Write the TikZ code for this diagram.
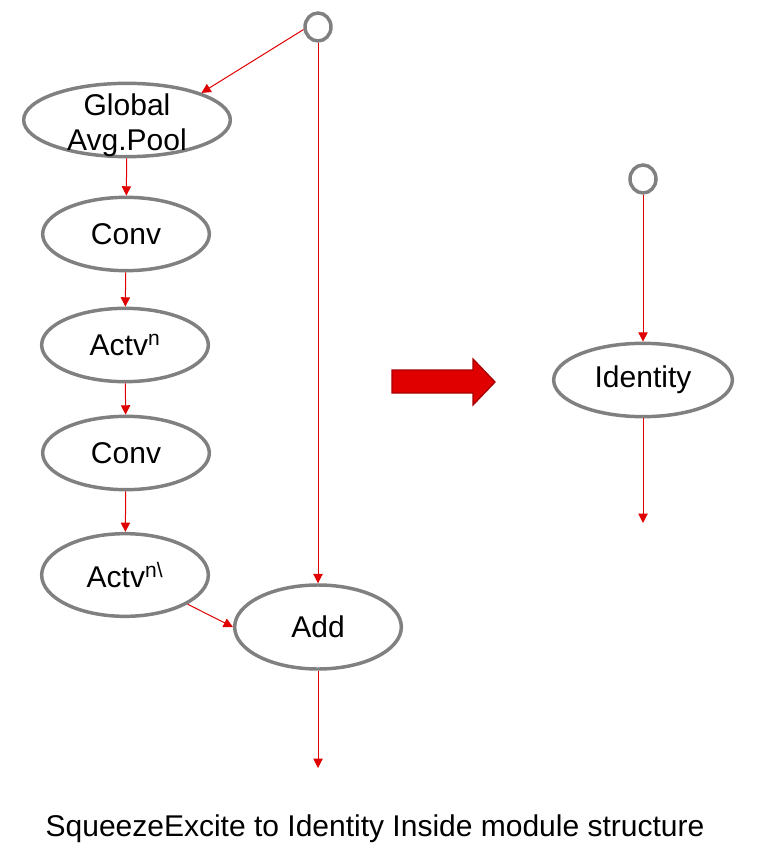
\documentclass[tikz,border=0pt]{standalone}
\usepackage{fontspec}
\setmainfont{Liberation Sans}
\usetikzlibrary{shapes.geometric,arrows.meta}
\definecolor{seGray}{HTML}{808080}
\definecolor{seRed}{HTML}{E00000}
\definecolor{seDark}{HTML}{A80000}

\begin{document}
\begin{tikzpicture}[x=0.75pt,y=-0.75pt,
		blk/.style={ellipse,draw=seGray,line width=2.6pt,fill=white,inner sep=0pt,
			align=center,font=\fontsize{22.5}{26}\selectfont,minimum width=125pt,minimum height=55pt},
		port/.style={ellipse,draw=seGray,line width=2.6pt,inner sep=0pt,
			minimum width=19.5pt,minimum height=21pt},
		flow/.style={seRed,line width=0.75pt,-{Triangle[length=7pt,width=7pt]}}]
	\useasboundingbox (0,0) rectangle (759,862);
	% squeeze-excite branch
	\node[port] (in) at (318,27) {};
	\node[blk,minimum width=155pt,inner ysep=-12pt] (gap) at (127,120) {\rule{0pt}{24pt}Global\\Avg.Pool};
	\node[blk] (conv1) at (126,234) {Conv};
	\node[blk] (act1) at (125,345) {Actv\textsuperscript{n}};
	\node[blk] (conv2) at (126,453) {Conv};
	\node[blk,minimum height=62pt] (act2) at (125,575) {Actv\textsuperscript{n\textbackslash}};
	\node[blk,minimum height=63pt] (add) at (318,627) {Add};
	\coordinate (out) at (318,768);
	\draw[flow] (in.190) -- (gap.20);
	\draw[flow] (gap) -- (conv1);
	\draw[flow] (conv1) -- (act1);
	\draw[flow] (act1) -- (conv2);
	\draw[flow] (conv2) -- (act2);
	\draw[flow] (act2.-25) -- (add.west);
	\draw[flow] (in.south) -- (add.north);
	\draw[flow] (add.south) -- (out);
	% replacement
	\fill[seRed,draw=seDark,line width=1pt] (392,370) -- (473,370) -- (473,359) -- (495,382)
		-- (473,405) -- (473,393) -- (392,393) -- cycle;
	\node[port] (in2) at (643,179) {};
	\node[blk,minimum width=134pt] (ident) at (643,380) {Identity};
	\coordinate (out2) at (643,523);
	\draw[flow] (in2) -- (ident);
	\draw[flow] (ident) -- (out2);
	\node[font=\fontsize{22.5}{26}\selectfont] (cap) at (375,829)
		{SqueezeExcite to Identity Inside module structure};
\end{tikzpicture}
\end{document}
